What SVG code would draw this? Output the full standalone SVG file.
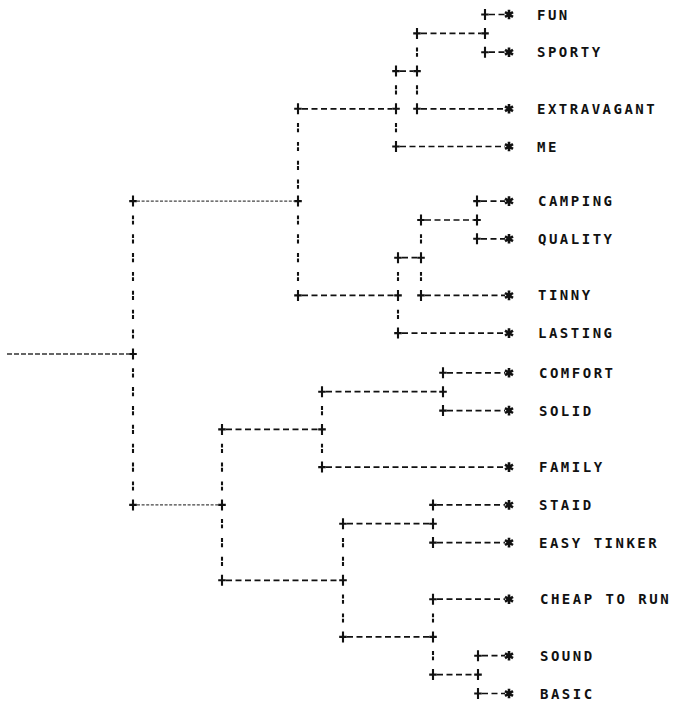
<svg xmlns="http://www.w3.org/2000/svg" xmlns:xlink="http://www.w3.org/1999/xlink" width="674" height="702" viewBox="0 0 674 702">
<style>
.h{stroke:#111;stroke-width:1.7;stroke-dasharray:6 3.5;fill:none}
.f{stroke:#444;stroke-width:1.2;stroke-dasharray:3 1.6;fill:none}
.r{stroke:#333;stroke-width:1.6;stroke-dasharray:5 2;fill:none}
.mk{stroke:#111;fill:none;stroke-width:2.1}
.st{stroke:#111;fill:none;stroke-width:2.6}
text{font-family:"DejaVu Sans Mono","Liberation Mono",monospace;font-weight:bold;font-size:14px;letter-spacing:2.5px;fill:#111}
</style>
<defs>
<path id="p" class="mk" d="M0,-5.5V5.5M-3.8,0H3.8"/>
<path id="b" class="mk" d="M0,-4.6V-0.7M0,0.7V4.6"/>
<path id="s" class="st" d="M0,-4.8V4.8M-4,-2.4L4,2.4M-4,2.4L4,-2.4"/>
</defs>
<rect width="674" height="702" fill="#fff"/>
<g id="connectors">
<line class="r" x1="7" y1="354" x2="129" y2="354"/>
<line class="f" x1="137" y1="201.1" x2="294" y2="201.1"/>
<line class="f" x1="137" y1="504.9" x2="218" y2="504.9"/>
<line class="h" x1="421" y1="33.4" x2="481" y2="33.4"/>
<line class="h" x1="489" y1="14.5" x2="505" y2="14.5"/>
<line class="h" x1="489" y1="52.2" x2="505" y2="52.2"/>
<line class="h" x1="400" y1="71.1" x2="413" y2="71.1"/>
<line class="h" x1="302" y1="108.8" x2="392" y2="108.8"/>
<line class="h" x1="421" y1="108.8" x2="505" y2="108.8"/>
<line class="h" x1="400" y1="146.5" x2="505" y2="146.5"/>
<line class="h" x1="481" y1="201.1" x2="505" y2="201.1"/>
<line class="h" x1="425" y1="220" x2="473" y2="220"/>
<line class="h" x1="481" y1="238.8" x2="505" y2="238.8"/>
<line class="h" x1="402" y1="257.7" x2="417" y2="257.7"/>
<line class="h" x1="302" y1="295.4" x2="394" y2="295.4"/>
<line class="h" x1="425" y1="295.4" x2="505" y2="295.4"/>
<line class="h" x1="402" y1="333.1" x2="505" y2="333.1"/>
<line class="h" x1="447" y1="372.8" x2="505" y2="372.8"/>
<line class="h" x1="326" y1="391.7" x2="439" y2="391.7"/>
<line class="h" x1="447" y1="410.6" x2="505" y2="410.6"/>
<line class="h" x1="226" y1="429.4" x2="318" y2="429.4"/>
<line class="h" x1="326" y1="467.1" x2="505" y2="467.1"/>
<line class="h" x1="437" y1="504.9" x2="505" y2="504.9"/>
<line class="h" x1="347" y1="523.7" x2="429" y2="523.7"/>
<line class="h" x1="437" y1="542.6" x2="505" y2="542.6"/>
<line class="h" x1="226" y1="580.3" x2="339" y2="580.3"/>
<line class="h" x1="437" y1="599.2" x2="505" y2="599.2"/>
<line class="h" x1="347" y1="636.9" x2="429" y2="636.9"/>
<line class="h" x1="482" y1="655.7" x2="505" y2="655.7"/>
<line class="h" x1="437" y1="674.6" x2="474" y2="674.6"/>
<line class="h" x1="482" y1="693.5" x2="505" y2="693.5"/>
<use href="#b" x="133" y="220"/><use href="#b" x="133" y="238.8"/><use href="#b" x="133" y="257.7"/><use href="#b" x="133" y="276.5"/><use href="#b" x="133" y="295.4"/><use href="#b" x="133" y="314.3"/><use href="#b" x="133" y="334"/>
<use href="#b" x="133" y="372.8"/><use href="#b" x="133" y="391.7"/><use href="#b" x="133" y="410.6"/><use href="#b" x="133" y="429.4"/><use href="#b" x="133" y="448.3"/><use href="#b" x="133" y="467.1"/><use href="#b" x="133" y="486"/>
<use href="#b" x="298" y="127.7"/><use href="#b" x="298" y="146.5"/><use href="#b" x="298" y="165.4"/><use href="#b" x="298" y="184.2"/>
<use href="#b" x="298" y="220"/><use href="#b" x="298" y="238.8"/><use href="#b" x="298" y="257.7"/><use href="#b" x="298" y="276.5"/>
<use href="#b" x="396" y="89.9"/><use href="#b" x="396" y="127.7"/>
<use href="#b" x="417" y="52.2"/><use href="#b" x="417" y="89.9"/>
<use href="#b" x="398" y="276.5"/><use href="#b" x="398" y="314.3"/>
<use href="#b" x="421" y="238.8"/><use href="#b" x="421" y="276.5"/>
<use href="#b" x="222" y="448.3"/><use href="#b" x="222" y="467.1"/><use href="#b" x="222" y="486"/><use href="#b" x="222" y="523.7"/><use href="#b" x="222" y="542.6"/><use href="#b" x="222" y="561.4"/>
<use href="#b" x="322" y="410.6"/><use href="#b" x="322" y="448.3"/>
<use href="#b" x="343" y="542.6"/><use href="#b" x="343" y="561.4"/><use href="#b" x="343" y="599.2"/><use href="#b" x="343" y="618"/>
<use href="#b" x="433" y="618"/><use href="#b" x="433" y="655.7"/>
</g>
<g id="n-root"><use href="#p" x="133" y="201.1"/><use href="#p" x="133" y="354"/><use href="#p" x="133" y="504.9"/></g>
<g id="n-B"><use href="#p" x="298" y="108.8"/><use href="#p" x="298" y="201.1"/><use href="#p" x="298" y="295.4"/></g>
<g id="n-C1"><use href="#p" x="396" y="71.1"/><use href="#p" x="396" y="108.8"/><use href="#p" x="396" y="146.5"/></g>
<g id="n-D1"><use href="#p" x="417" y="33.4"/><use href="#p" x="417" y="71.1"/><use href="#p" x="417" y="108.8"/></g>
<g id="n-E1"><use href="#p" x="485" y="14.5"/><use href="#p" x="485" y="33.4"/><use href="#p" x="485" y="52.2"/></g>
<g id="n-C2"><use href="#p" x="398" y="257.7"/><use href="#p" x="398" y="295.4"/><use href="#p" x="398" y="333.1"/></g>
<g id="n-D2"><use href="#p" x="421" y="220"/><use href="#p" x="421" y="257.7"/><use href="#p" x="421" y="295.4"/></g>
<g id="n-E2"><use href="#p" x="477" y="201.1"/><use href="#p" x="477" y="220"/><use href="#p" x="477" y="238.8"/></g>
<g id="n-F"><use href="#p" x="222" y="429.4"/><use href="#p" x="222" y="504.9"/><use href="#p" x="222" y="580.3"/></g>
<g id="n-G"><use href="#p" x="322" y="391.7"/><use href="#p" x="322" y="429.4"/><use href="#p" x="322" y="467.1"/></g>
<g id="n-H"><use href="#p" x="443" y="372.8"/><use href="#p" x="443" y="391.7"/><use href="#p" x="443" y="410.6"/></g>
<g id="n-I"><use href="#p" x="343" y="523.7"/><use href="#p" x="343" y="580.3"/><use href="#p" x="343" y="636.9"/></g>
<g id="n-J"><use href="#p" x="433" y="504.9"/><use href="#p" x="433" y="523.7"/><use href="#p" x="433" y="542.6"/></g>
<g id="n-K"><use href="#p" x="433" y="599.2"/><use href="#p" x="433" y="636.9"/><use href="#p" x="433" y="674.6"/></g>
<g id="n-L"><use href="#p" x="478" y="655.7"/><use href="#p" x="478" y="674.6"/><use href="#p" x="478" y="693.5"/></g>
<g id="leaf-fun"><use href="#s" x="509" y="14.5"/><text x="537" y="19.5">FUN</text></g>
<g id="leaf-sporty"><use href="#s" x="509" y="52.2"/><text x="537" y="57.2">SPORTY</text></g>
<g id="leaf-extravagant"><use href="#s" x="509" y="108.8"/><text x="537" y="113.8">EXTRAVAGANT</text></g>
<g id="leaf-me"><use href="#s" x="509" y="146.5"/><text x="537" y="151.5">ME</text></g>
<g id="leaf-camping"><use href="#s" x="509" y="201.1"/><text x="538" y="206.1">CAMPING</text></g>
<g id="leaf-quality"><use href="#s" x="509" y="238.8"/><text x="538" y="243.8">QUALITY</text></g>
<g id="leaf-tinny"><use href="#s" x="509" y="295.4"/><text x="538" y="300.4">TINNY</text></g>
<g id="leaf-lasting"><use href="#s" x="509" y="333.1"/><text x="538" y="338.1">LASTING</text></g>
<g id="leaf-comfort"><use href="#s" x="509" y="372.8"/><text x="539" y="377.8">COMFORT</text></g>
<g id="leaf-solid"><use href="#s" x="509" y="410.6"/><text x="539" y="415.6">SOLID</text></g>
<g id="leaf-family"><use href="#s" x="509" y="467.1"/><text x="539" y="472.1">FAMILY</text></g>
<g id="leaf-staid"><use href="#s" x="509" y="504.9"/><text x="539" y="509.9">STAID</text></g>
<g id="leaf-easy-tinker"><use href="#s" x="509" y="542.6"/><text x="539" y="547.6">EASY TINKER</text></g>
<g id="leaf-cheap-to-run"><use href="#s" x="509" y="599.2"/><text x="540" y="604.2">CHEAP TO RUN</text></g>
<g id="leaf-sound"><use href="#s" x="509" y="655.7"/><text x="540" y="660.7">SOUND</text></g>
<g id="leaf-basic"><use href="#s" x="509" y="693.5"/><text x="540" y="698.5">BASIC</text></g>
</svg>
